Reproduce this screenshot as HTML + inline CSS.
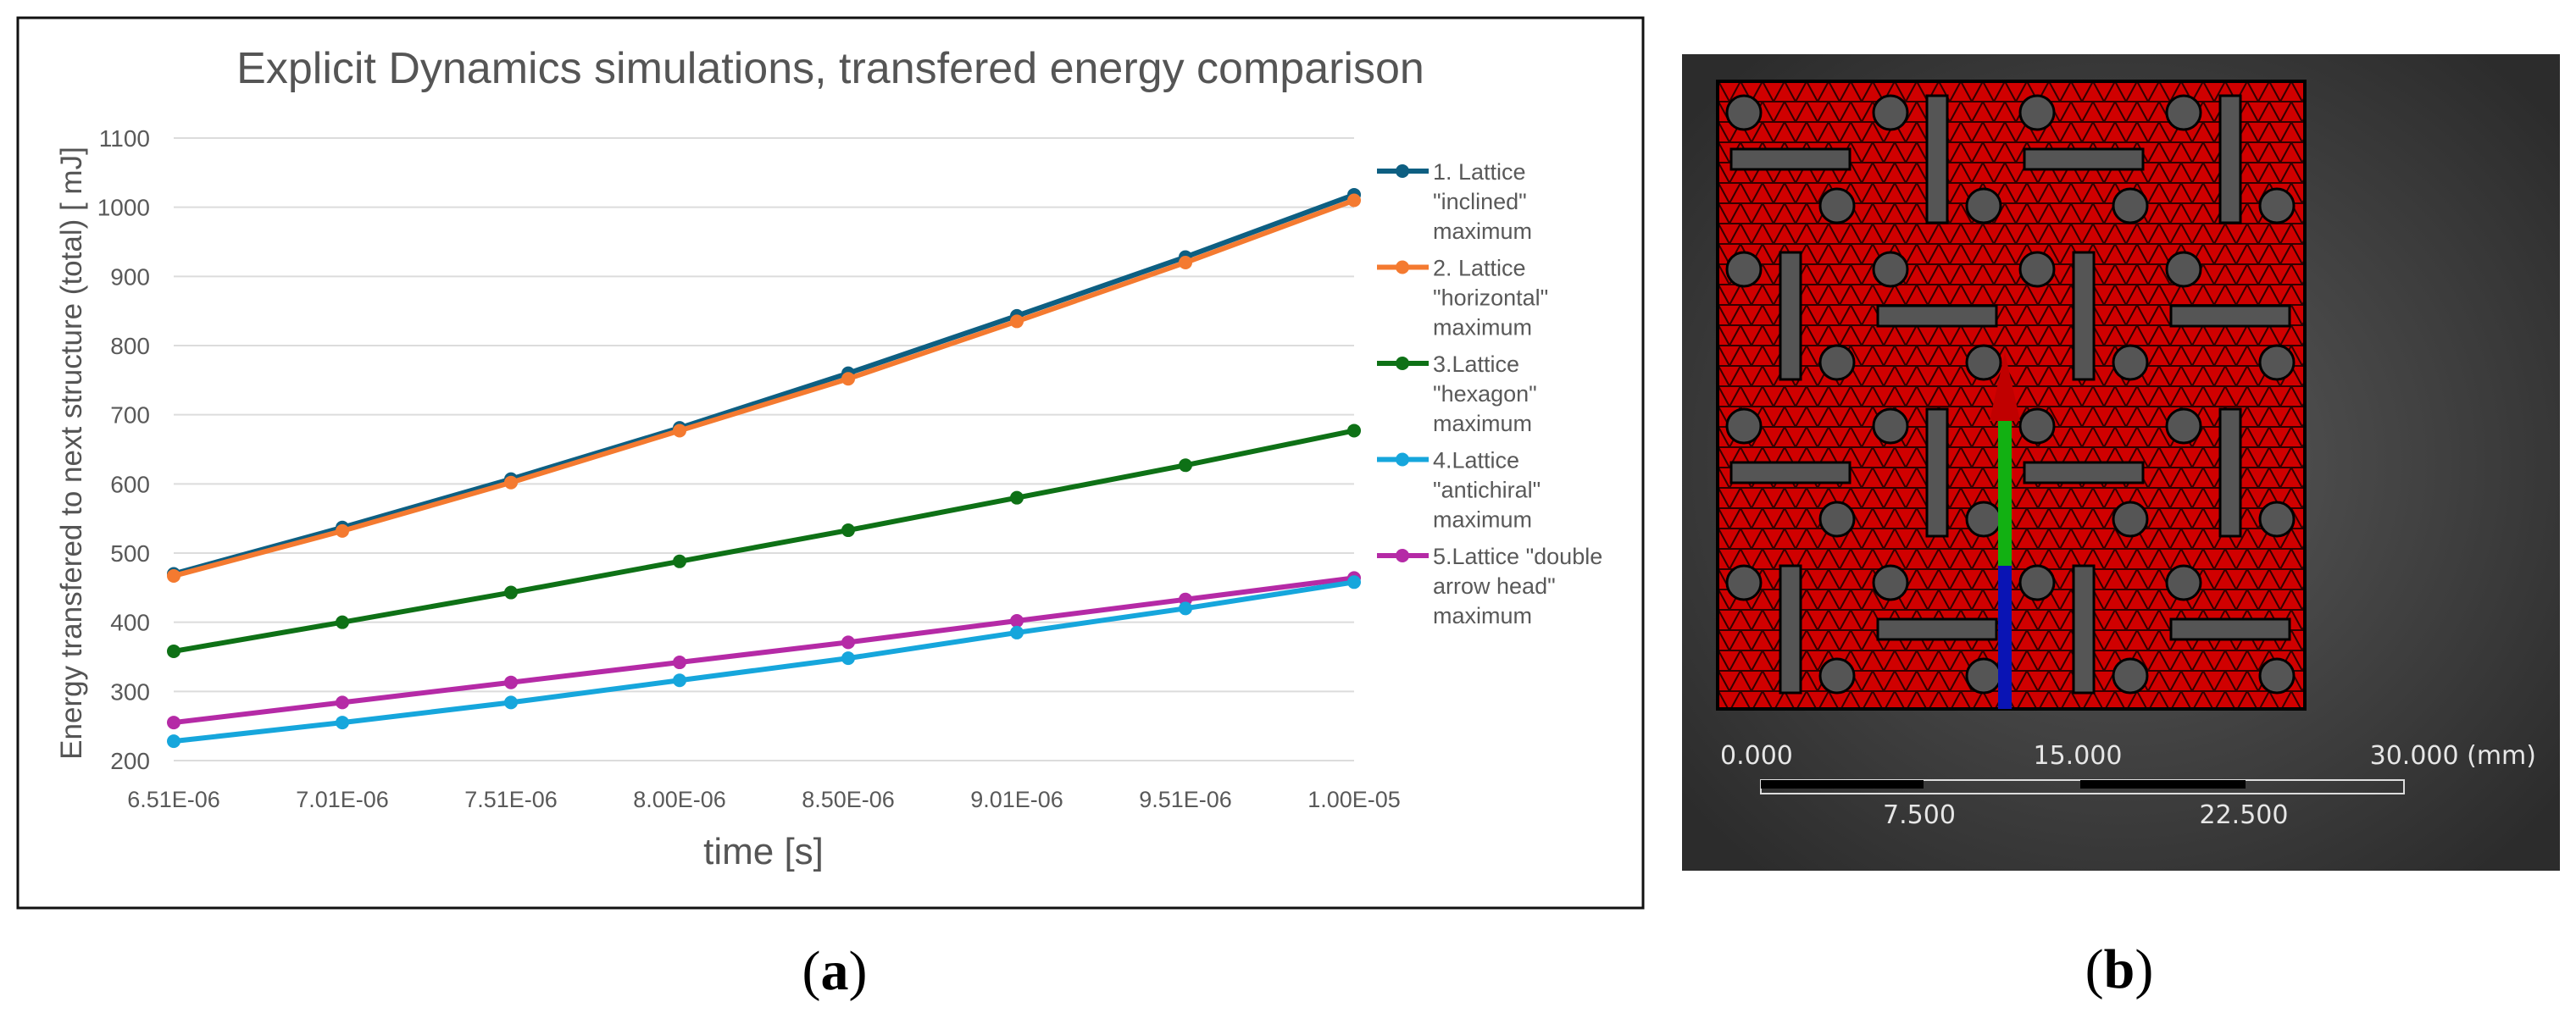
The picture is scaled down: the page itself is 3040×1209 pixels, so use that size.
<!DOCTYPE html>
<html><head><meta charset="utf-8"><style>
html,body{margin:0;padding:0;background:#fff;}
body{width:3040px;height:1209px;position:relative;overflow:hidden;font-family:"Liberation Sans",sans-serif;}
svg{position:absolute;left:0;top:0;}
</style></head><body>
<svg id="chart" width="3040" height="1209">
  <rect x="21" y="21" width="1918" height="1051" fill="#fff" stroke="#111" stroke-width="3"/>
  <text x="980" y="98" text-anchor="middle" font-size="52" fill="#555">Explicit Dynamics simulations, transfered energy comparison</text>
  <g id="grid"></g><g id="yticks"></g><g id="xticks"></g><g id="series"></g><g id="legend"></g>
  <text x="901" y="1020" text-anchor="middle" font-size="44" fill="#555">time [s]</text>
  <text transform="translate(96,535) rotate(-90)" text-anchor="middle" font-size="35" fill="#555">Energy transfered to next structure (total) [ mJ]</text>
  <text x="985" y="1168" text-anchor="middle" font-size="66" font-family="Liberation Serif,serif" fill="#000">(<tspan font-weight="bold">a</tspan>)</text>

  <defs>
    <radialGradient id="bg" cx="0.5" cy="0.5" r="0.65">
      <stop offset="0" stop-color="#5a5a5a"/><stop offset="1" stop-color="#2c2c2c"/>
    </radialGradient>
    <pattern id="mesh" width="26" height="24" patternUnits="userSpaceOnUse">
      <rect width="26" height="24" fill="#d00000"/>
      <path d="M0 0L13 24L26 0M0 24H26M0 0H26" stroke="#300" stroke-width="2" fill="none"/>
    </pattern>
  </defs>
  <rect x="1985" y="64" width="1036" height="964" fill="url(#bg)"/>
  <g id="lattice">
    <rect x="2027" y="96" width="693" height="741" fill="url(#mesh)" stroke="#000" stroke-width="4"/>
  </g>
  <g>
    <rect x="2358" y="668" width="16" height="169" fill="#0a14b4"/>
    <rect x="2358" y="497" width="16" height="171" fill="#12b012"/>
    <polygon points="2366,416 2348,497 2384,497" fill="#c00000"/>
  </g>
  <g fill="#e6e6e6" font-family="DejaVu Sans,sans-serif" font-size="30">
    <text x="2030" y="902">0.000</text>
    <text x="2452" y="902" text-anchor="middle">15.000</text>
    <text x="2993" y="902" text-anchor="end">30.000 (mm)</text>
    <rect x="2078" y="921" width="759" height="16" fill="none" stroke="#ddd" stroke-width="2"/>
    <rect x="2078" y="921" width="192" height="10" fill="#000"/>
    <rect x="2455" y="921" width="195" height="10" fill="#000"/>
    <text x="2265" y="972" text-anchor="middle">7.500</text>
    <text x="2648" y="972" text-anchor="middle">22.500</text>
  </g>
  <text x="2501" y="1166" text-anchor="middle" font-size="66" font-family="Liberation Serif,serif" fill="#000">(<tspan font-weight="bold">b</tspan>)</text>
</svg>
<script>
const categories=["6.51E-06","7.01E-06","7.51E-06","8.00E-06","8.50E-06","9.01E-06","9.51E-06","1.00E-05"];
const yTicks=[200,300,400,500,600,700,800,900,1000,1100];
const seriesNames=[["1. Lattice","\"inclined\"","maximum"],["2. Lattice","\"horizontal\"","maximum"],["3.Lattice","\"hexagon\"","maximum"],["4.Lattice","\"antichiral\"","maximum"],["5.Lattice \"double","arrow head\"","maximum"]];
const seriesColors=["#0e5f82","#f47a30","#0e7116","#16a6dc","#b52aa6"];
const inclined=[470,537,607,681,760,843,928,1018];
const horizontal=[467,532,602,677,752,835,920,1010];
const hexagon=[358,400,443,488,533,580,627,677];
const antichiral=[228,255,284,316,348,385,420,458];
const doubleArrow=[255,284,313,342,371,402,433,464];
const seriesData=[inclined,horizontal,hexagon,antichiral,doubleArrow];
const NS="http://www.w3.org/2000/svg";
const X0=205,X1=1598,Y0=898,Y1=163,ymin=200,ymax=1100;
const xs=i=>X0+(X1-X0)*i/(categories.length-1);
const ys=v=>Y0-(v-ymin)/(ymax-ymin)*(Y0-Y1);
function mk(tag,attrs,parent){const e=document.createElementNS(NS,tag);for(const k in attrs)e.setAttribute(k,attrs[k]);parent.appendChild(e);return e;}
const grid=document.getElementById('grid'),yt=document.getElementById('yticks'),xt=document.getElementById('xticks'),sg=document.getElementById('series'),lg=document.getElementById('legend');
yTicks.forEach(v=>{
  const l=mk('line',{x1:X0,x2:X1,y1:ys(v),y2:ys(v),stroke:'#dcdcdc','stroke-width':2},grid);
  
  
  const t=mk('text',{x:177,y:ys(v)+10,'text-anchor':'end','font-size':28,fill:'#595959'},yt);t.textContent=v;
  
  
});
categories.forEach((c,i)=>{
  const t=mk('text',{x:xs(i),y:953,'text-anchor':'middle','font-size':27,fill:'#595959'},xt);t.textContent=c;
  
  
});
[4,3,2,0,1].forEach(s=>{
  const g=mk('g',{},sg);
  
  
  const pts=seriesData[s].map((v,i)=>xs(i)+','+ys(v)).join(' ');
  mk('polyline',{points:pts,fill:'none',stroke:seriesColors[s],'stroke-width':6,'stroke-linejoin':'round'},g);
  seriesData[s].forEach((v,i)=>{
    const c=mk('circle',{cx:xs(i),cy:ys(v),r:8,fill:seriesColors[s]},g);
    
    
  });
});
seriesNames.forEach((n,s)=>{
  const y=202+s*113.5;
  const g=mk('g',{},lg);
  
  
  mk('line',{x1:1625,x2:1686,y1:y,y2:y,stroke:seriesColors[s],'stroke-width':6},g);
  mk('circle',{cx:1655,cy:y,r:8,fill:seriesColors[s]},g);
  n.forEach((line,k)=>{const t=mk('text',{x:1691,y:y+10+k*35,'font-size':27,fill:'#595959'},g);t.textContent=line;});
});
// lattice cutouts (decorative)
const lat=document.getElementById('lattice');
for(let r=0;r<4;r++)for(let c=0;c<4;c++){
  const cx=2027+c*173+86,cy=96+r*185+92;
  mk('circle',{cx:cx-55,cy:cy-55,r:20,fill:'#555',stroke:'#000','stroke-width':3},lat);
  mk('circle',{cx:cx+55,cy:cy+55,r:20,fill:'#555',stroke:'#000','stroke-width':3},lat);
  if((r+c)%2==0){mk('rect',{x:cx-70,y:cy-12,width:140,height:24,fill:'#555',stroke:'#000','stroke-width':3},lat);}
  else{mk('rect',{x:cx-12,y:cy-75,width:24,height:150,fill:'#555',stroke:'#000','stroke-width':3},lat);}
}
</script>
</body></html>
